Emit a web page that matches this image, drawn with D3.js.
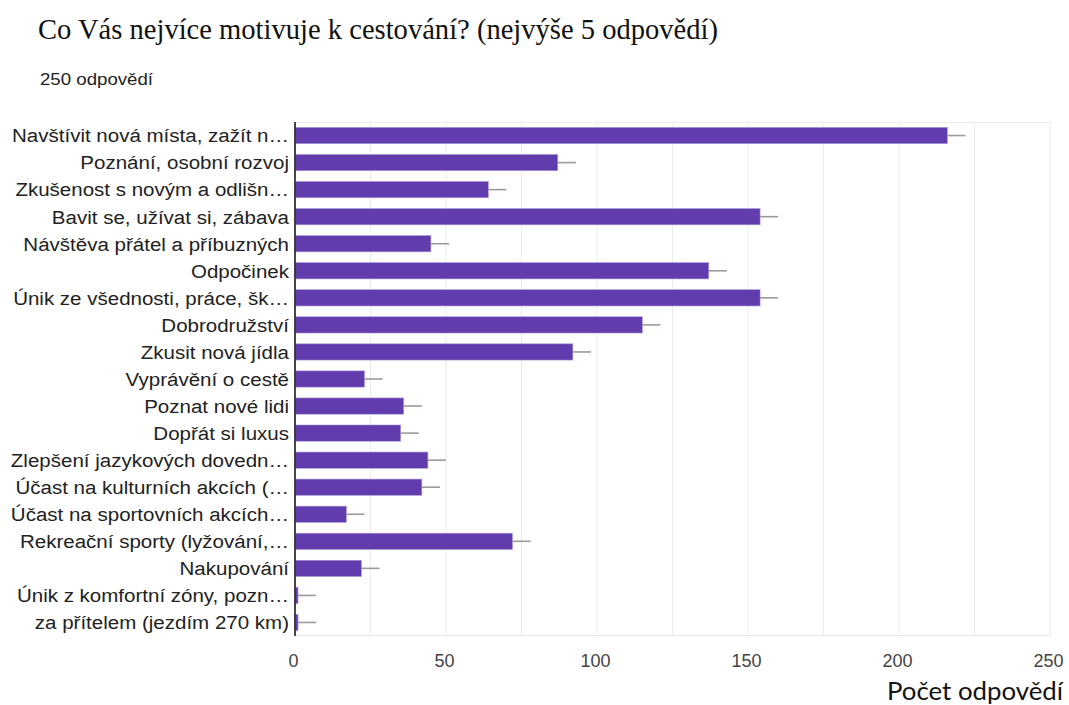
<!DOCTYPE html>
<html>
<head>
<meta charset="utf-8">
<script src="https://cdn.jsdelivr.net/npm/d3@7"></script>
<style>
  html, body { margin: 0; padding: 0; background: #fff; }
  svg { display: block; }
</style>
</head>
<body>
<svg id="chart" width="1069" height="705"></svg>
<script>
const categories = [
  "Navštívit nová místa, zažít n…",
  "Poznání, osobní rozvoj",
  "Zkušenost s novým a odlišn…",
  "Bavit se, užívat si, zábava",
  "Návštěva přátel a příbuzných",
  "Odpočinek",
  "Únik ze všednosti, práce, šk…",
  "Dobrodružství",
  "Zkusit nová jídla",
  "Vyprávění o cestě",
  "Poznat nové lidi",
  "Dopřát si luxus",
  "Zlepšení jazykových dovedn…",
  "Účast na kulturních akcích (…",
  "Účast na sportovních akcích…",
  "Rekreační sporty (lyžování,…",
  "Nakupování",
  "Únik z komfortní zóny, pozn…",
  "za přítelem (jezdím 270 km)"
];
const values = [216, 87, 64, 154, 45, 137, 154, 115, 92, 23, 36, 35, 44, 42, 17, 72, 22, 1, 1];
const errors = [6, 6, 6, 6, 6, 6, 6, 6, 6, 6, 6, 6, 6, 6, 6, 6, 6, 6, 6];
const xTicks = [0, 50, 100, 150, 200, 250];
const gridTicks = [0, 25, 50, 75, 100, 125, 150, 175, 200, 225, 250];
const titleText = "Co Vás nejvíce motivuje k cestování? (nejvýše 5 odpovědí)";
const subtitleText = "250 odpovědí";
const axisTitle = "Počet odpovědí";

const svg = d3.select("#chart");
const m = { left: 295, right: 1050, top: 122, bottom: 636 };
const labelStretch = 1.08;

const x = d3.scaleLinear().domain([0, 250]).range([m.left, m.right]);
const y = d3.scaleBand().domain(categories).range([m.top, m.bottom]).paddingInner(0.4).paddingOuter(0.2);

svg.append("text")
  .attr("x", 38).attr("y", 39)
  .attr("font-family", "'Liberation Serif', 'Times New Roman', serif")
  .attr("font-size", 28.5).attr("fill", "#111")
  .attr("textLength", 680).attr("lengthAdjust", "spacingAndGlyphs")
  .text(titleText);

svg.append("text")
  .attr("x", 40).attr("y", 85)
  .attr("font-family", "'Liberation Sans', Arial, sans-serif")
  .attr("font-size", 16.5).attr("fill", "#222")
  .attr("textLength", 113).attr("lengthAdjust", "spacingAndGlyphs")
  .text(subtitleText);

// grid
svg.append("g").selectAll("line").data(gridTicks).join("line")
  .attr("x1", d => x(d)).attr("x2", d => x(d))
  .attr("y1", m.top).attr("y2", m.bottom)
  .attr("stroke", "#ebebeb").attr("stroke-width", 1);
svg.append("line")
  .attr("x1", m.left).attr("x2", m.right).attr("y1", m.top + 0.5).attr("y2", m.top + 0.5)
  .attr("stroke", "#ebebeb");
svg.append("line")
  .attr("x1", m.left).attr("x2", m.right).attr("y1", m.bottom - 0.5).attr("y2", m.bottom - 0.5)
  .attr("stroke", "#e6e6e6");

// error bars
svg.append("g").selectAll("line").data(categories).join("line")
  .attr("x1", (d, i) => x(values[i]))
  .attr("x2", (d, i) => x(values[i] + errors[i]))
  .attr("y1", d => y(d) + y.bandwidth() / 2)
  .attr("y2", d => y(d) + y.bandwidth() / 2)
  .attr("stroke", "#9a9a9a").attr("stroke-width", 1.6);

// bars
svg.append("g").selectAll("rect").data(categories).join("rect")
  .attr("x", x(0))
  .attr("y", d => y(d))
  .attr("width", (d, i) => x(values[i]) - x(0))
  .attr("height", y.bandwidth())
  .attr("fill", "#603cac")
  .attr("stroke", "#a896d6").attr("stroke-width", 0.6);

// y axis line
svg.append("line")
  .attr("x1", x(0)).attr("x2", x(0))
  .attr("y1", m.top).attr("y2", m.bottom)
  .attr("stroke", "#333").attr("stroke-width", 1.8);

// category labels
const yAxis = d3.axisLeft(y).tickSize(0).tickPadding(0);
const gy = svg.append("g").attr("transform", `translate(${x(0)},0)`).call(yAxis);
gy.select(".domain").remove();
gy.selectAll("text")
  .attr("font-family", "'Liberation Sans', Arial, sans-serif")
  .attr("font-size", 19).attr("fill", "#222")
  .attr("x", -6 / labelStretch)
  .attr("dy", "0.36em")
  .attr("transform", `scale(${labelStretch},1)`);

// x axis
const xAxis = d3.axisBottom(x).tickValues(xTicks).tickSize(0).tickPadding(18);
const gx = svg.append("g").attr("transform", `translate(-2,${m.bottom})`).call(xAxis);
gx.select(".domain").remove();
gx.selectAll("text")
  .attr("font-family", "'Liberation Sans', Arial, sans-serif")
  .attr("font-size", 18).attr("fill", "#444");

svg.append("text")
  .attr("x", 1063).attr("y", 700)
  .attr("text-anchor", "end")
  .attr("font-family", "Lato, 'Open Sans', sans-serif")
  .attr("font-size", 25).attr("fill", "#111")
  .attr("textLength", 176).attr("lengthAdjust", "spacingAndGlyphs")
  .text(axisTitle);
</script>
</body>
</html>
